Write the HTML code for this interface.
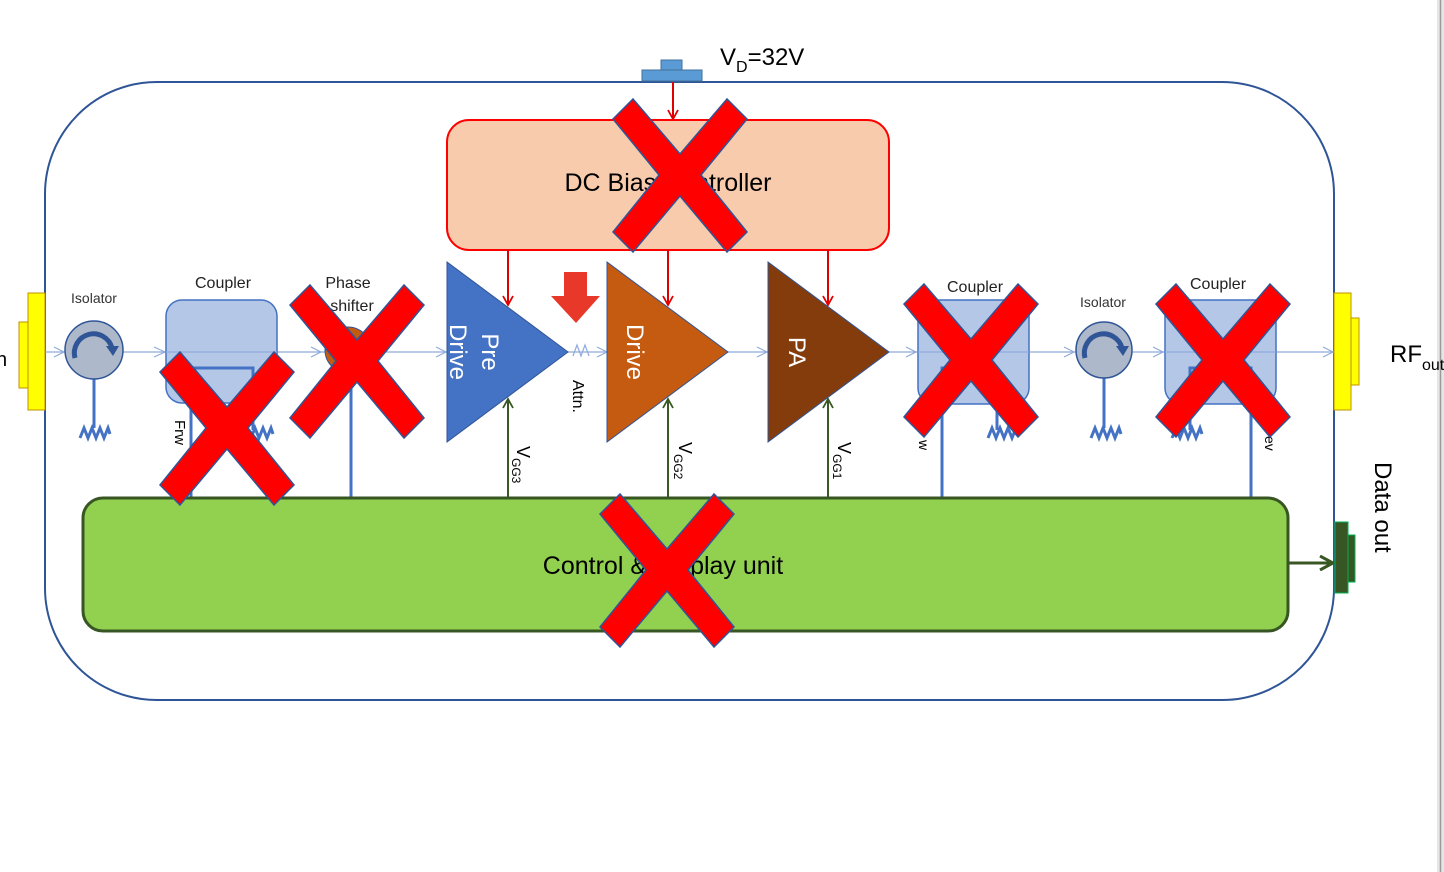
<!DOCTYPE html>
<html><head><meta charset="utf-8"><style>
html,body{margin:0;padding:0;background:#fff;}
svg{display:block;font-family:"Liberation Sans",Calibri,sans-serif;}
</style></head><body>
<svg width="1444" height="872" viewBox="0 0 1444 872" xmlns="http://www.w3.org/2000/svg">
<defs>
<polygon id="X" points="0,20 20,0 67,55 114,0 134,20 88,76 134,133 114,153 67,97 20,153 0,133 46,76" fill="#FF0000" stroke="#2F5597" stroke-width="1.5"/>
<marker id="ra" markerWidth="12" markerHeight="12" refX="10" refY="6" orient="auto" markerUnits="userSpaceOnUse"><path d="M1,1 L10,6 L1,11" fill="none" stroke="#E00000" stroke-width="1.8"/></marker>
<marker id="ga" markerWidth="12" markerHeight="12" refX="10" refY="6" orient="auto" markerUnits="userSpaceOnUse"><path d="M1,1 L10,6 L1,11" fill="none" stroke="#385723" stroke-width="1.8"/></marker>
<marker id="gb" markerWidth="16" markerHeight="16" refX="14" refY="8" orient="auto" markerUnits="userSpaceOnUse"><path d="M1,1 L14,8 L1,15" fill="none" stroke="#385723" stroke-width="3"/></marker>
<g id="res"><polyline points="-15,10 -11,0 -7,10 -3,0 1,10 5,0 9,10 13,0 15,6" fill="none" stroke="#4472C4" stroke-width="3"/></g>
</defs>
<rect x="1437" y="0" width="7" height="872" fill="#e6e6e6"/>
<line x1="1440.5" y1="0" x2="1440.5" y2="872" stroke="#9a9a9a" stroke-width="1.5"/>

<rect x="45" y="82" width="1289" height="618" rx="112" fill="none" stroke="#2F5597" stroke-width="2"/>

<rect x="642" y="70" width="60" height="11" fill="#5B9BD5" stroke="#41719C" stroke-width="1"/>
<rect x="661" y="60" width="21" height="10" fill="#5B9BD5" stroke="#41719C" stroke-width="1"/>
<text x="720" y="65" font-size="24" fill="#000">V<tspan font-size="16" dy="7">D</tspan><tspan dy="-7">=32V</tspan></text>
<line x1="673" y1="82" x2="673" y2="119" stroke="#E00000" stroke-width="2" marker-end="url(#ra)"/>

<rect x="447" y="120" width="442" height="130" rx="22" fill="#F8CBAD" stroke="#FF0000" stroke-width="2"/>
<text x="668" y="191" font-size="25" text-anchor="middle" fill="#000">DC Bias Controller</text>
<line x1="508" y1="250" x2="508" y2="305" stroke="#E00000" stroke-width="2" marker-end="url(#ra)"/>
<line x1="668" y1="250" x2="668" y2="305" stroke="#E00000" stroke-width="2" marker-end="url(#ra)"/>
<line x1="828" y1="250" x2="828" y2="305" stroke="#E00000" stroke-width="2" marker-end="url(#ra)"/>

<line x1="45" y1="352" x2="1334" y2="352" stroke="#8FAADC" stroke-width="1.3"/>
<g stroke="#8FAADC" stroke-width="1.2" fill="none">
<path d="M54,347 L64,352 L54,357"/><path d="M154,347 L165,352 L154,357"/><path d="M311,347 L321,352 L311,357"/>
<path d="M436,347 L446,352 L436,357"/><path d="M597,347 L607,352 L597,357"/><path d="M757,347 L767,352 L757,357"/>
<path d="M906,347 L916,352 L906,357"/><path d="M1064,347 L1074,352 L1064,357"/><path d="M1153,347 L1163,352 L1153,357"/>
<path d="M1323,347 L1333,352 L1323,357"/>
</g>

<rect x="19" y="322" width="10" height="66" fill="#FFFF00" stroke="#BF9000" stroke-width="1"/>
<rect x="28" y="293" width="17" height="117" fill="#FFFF00" stroke="#BF9000" stroke-width="1"/>
<text x="-4" y="366" font-size="20">n</text>
<rect x="1350" y="318" width="9" height="67" fill="#FFFF00" stroke="#BF9000" stroke-width="1"/>
<rect x="1334" y="293" width="17" height="117" fill="#FFFF00" stroke="#BF9000" stroke-width="1"/>
<text x="1390" y="362" font-size="24">RF<tspan font-size="16" dy="8">out</tspan></text>

<text x="94" y="303" font-size="14" text-anchor="middle" fill="#333">Isolator</text>
<line x1="94" y1="379" x2="94" y2="428" stroke="#4472C4" stroke-width="3"/>
<use href="#res" x="95" y="428"/>
<circle cx="94" cy="350" r="29" fill="#ADB9CA" stroke="#2F5597" stroke-width="1.5"/>
<path d="M75,358 A19,19 0 0 1 112,348" fill="none" stroke="#2F5597" stroke-width="5"/>
<path d="M106,346 L119,346 L113,356 Z" fill="#2F5597"/>

<text x="223" y="288" font-size="16" text-anchor="middle" fill="#222">Coupler</text>
<rect x="166" y="300" width="111" height="103" rx="16" fill="#B4C7E7" stroke="#4472C4" stroke-width="1.5"/>
<line x1="166" y1="352" x2="277" y2="352" stroke="#8FAADC" stroke-width="1.3"/>
<polyline points="191,498 191,368 253,368 253,430" fill="none" stroke="#4472C4" stroke-width="3"/>
<use href="#res" x="258" y="428"/>
<text transform="translate(175,420) rotate(90)" font-size="15">Frw</text>

<text x="348" y="288" font-size="16" text-anchor="middle" fill="#222">Phase</text>
<text x="352" y="311" font-size="16" text-anchor="middle" fill="#222">shifter</text>
<circle cx="348" cy="350" r="23" fill="#C55A11" stroke="#2F5597" stroke-width="1"/>
<line x1="351" y1="380" x2="351" y2="498" stroke="#4472C4" stroke-width="3"/>

<polygon points="447,262 447,442 568,352" fill="#4472C4" stroke="#2F5597" stroke-width="1"/>
<text transform="translate(482,352) rotate(90)" font-size="24" fill="#fff" text-anchor="middle">Pre</text>
<text transform="translate(450,352) rotate(90)" font-size="24" fill="#fff" text-anchor="middle">Drive</text>
<polygon points="607,262 607,442 728,352" fill="#C55A11" stroke="#2F5597" stroke-width="1"/>
<text transform="translate(627,352) rotate(90)" font-size="24" fill="#fff" text-anchor="middle">Drive</text>
<polygon points="768,262 768,442 889,352" fill="#843C0C" stroke="#2F5597" stroke-width="1"/>
<text transform="translate(789,352) rotate(90)" font-size="24" fill="#fff" text-anchor="middle">PA</text>

<polyline points="573,356 577,345 581,356 585,345 589,356" fill="none" stroke="#8FAADC" stroke-width="1.2"/>
<text transform="translate(573,380) rotate(90)" font-size="16">Attn.</text>
<polygon points="564,272 587,272 587,296 600,296 576,323 551,296 564,296" fill="#E8382A"/>

<line x1="508" y1="498" x2="508" y2="399" stroke="#385723" stroke-width="2" marker-end="url(#ga)"/>
<line x1="668" y1="498" x2="668" y2="399" stroke="#385723" stroke-width="2" marker-end="url(#ga)"/>
<line x1="828" y1="498" x2="828" y2="399" stroke="#385723" stroke-width="2" marker-end="url(#ga)"/>
<text transform="translate(517,446) rotate(90)" font-size="18">V<tspan font-size="12" dy="5">GG3</tspan></text>
<text transform="translate(679,442) rotate(90)" font-size="18">V<tspan font-size="12" dy="5">GG2</tspan></text>
<text transform="translate(838,442) rotate(90)" font-size="18">V<tspan font-size="12" dy="5">GG1</tspan></text>

<text x="975" y="292" font-size="16" text-anchor="middle" fill="#222">Coupler</text>
<rect x="918" y="300" width="111" height="104" rx="16" fill="#B4C7E7" stroke="#4472C4" stroke-width="1.5"/>
<line x1="918" y1="352" x2="1029" y2="352" stroke="#8FAADC" stroke-width="1.3"/>
<polyline points="942,498 942,368 997,368 997,430" fill="none" stroke="#4472C4" stroke-width="3"/>
<use href="#res" x="1003" y="428"/>
<text transform="translate(919,440) rotate(90)" font-size="14">w</text>

<text x="1103" y="307" font-size="14" text-anchor="middle" fill="#333">Isolator</text>
<line x1="1104" y1="378" x2="1104" y2="428" stroke="#4472C4" stroke-width="3"/>
<use href="#res" x="1106" y="428"/>
<circle cx="1104" cy="350" r="28" fill="#ADB9CA" stroke="#2F5597" stroke-width="1.5"/>
<path d="M1085,358 A19,19 0 0 1 1122,348" fill="none" stroke="#2F5597" stroke-width="5"/>
<path d="M1116,346 L1129,346 L1123,356 Z" fill="#2F5597"/>

<text x="1218" y="289" font-size="16" text-anchor="middle" fill="#222">Coupler</text>
<rect x="1165" y="300" width="111" height="104" rx="16" fill="#B4C7E7" stroke="#4472C4" stroke-width="1.5"/>
<line x1="1165" y1="352" x2="1276" y2="352" stroke="#8FAADC" stroke-width="1.3"/>
<polyline points="1251,498 1251,368 1190,368 1190,430" fill="none" stroke="#4472C4" stroke-width="3"/>
<use href="#res" x="1187" y="428"/>
<text transform="translate(1265,436) rotate(90)" font-size="14">ev</text>

<rect x="83" y="498" width="1205" height="133" rx="20" fill="#92D050" stroke="#375623" stroke-width="3"/>
<text x="663" y="574" font-size="25" text-anchor="middle" fill="#000">Control &amp; Display unit</text>
<line x1="1289" y1="563" x2="1333" y2="563" stroke="#385723" stroke-width="3" marker-end="url(#gb)"/>
<rect x="1347" y="535" width="8" height="47" fill="#375623" stroke="#00B050" stroke-width="1"/>
<rect x="1335" y="522" width="13" height="71" fill="#375623" stroke="#00B050" stroke-width="1"/>
<text transform="translate(1375,462) rotate(90)" font-size="24">Data out</text>

<use href="#X" x="613" y="99"/>
<use href="#X" x="160" y="352"/>
<use href="#X" x="290" y="285"/>
<use href="#X" x="904" y="284"/>
<use href="#X" x="1156" y="284"/>
<use href="#X" x="600" y="494"/>
</svg>
</body></html>
